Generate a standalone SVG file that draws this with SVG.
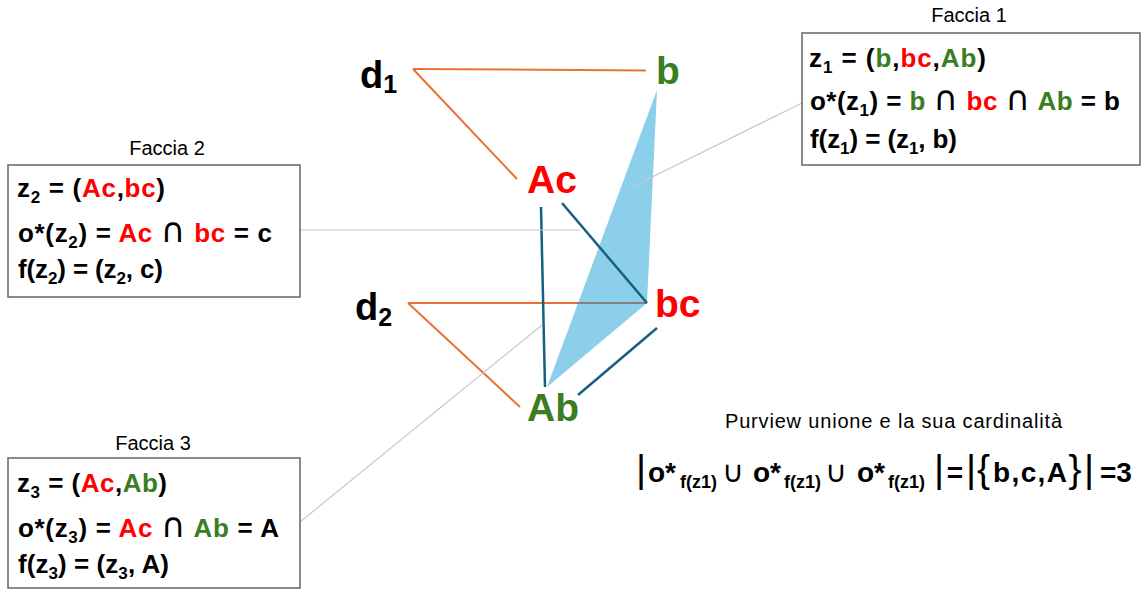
<svg xmlns="http://www.w3.org/2000/svg" width="1147" height="590" viewBox="0 0 1147 590">
<style>
text{font-family:"Liberation Sans",Arial,sans-serif;fill:#000}
.t{font-size:26px;font-weight:bold}
.ttl{font-size:20px;text-anchor:middle}
.lbl{font-size:39px;font-weight:bold}
.g{fill:#3B7D23}
.r{fill:#FF0000}
.op{font-family:"DejaVu Sans",sans-serif;font-weight:normal;font-size:34px}
.box{fill:#fff;stroke:#666;stroke-width:1.5}
.or{stroke:#E97132;stroke-width:2;fill:none}
.db{stroke:#156082;stroke-width:2.5;fill:none}
.lead{stroke:#C8C8C8;stroke-width:1.2;fill:none}
.f{font-size:28px;font-weight:bold}
.fs{font-size:18px;font-weight:bold}
.cup{font-family:"DejaVu Sans",sans-serif;font-size:30px;text-anchor:middle}
.bar{font-size:39px;text-anchor:middle}
</style>
<g id="face-z1-shape">
<polygon points="657,90 647,303 547,387" fill="#8CCFEA"/>
</g>
<g id="connectors">
<line class="or" x1="413" y1="69" x2="646" y2="70.5"/>
<line class="or" x1="413" y1="69" x2="517" y2="179"/>
<line class="or" x1="408" y1="303" x2="577" y2="303"/>
<line x1="577" y1="303" x2="647" y2="303" stroke="#808080" stroke-width="2"/>
<line class="or" x1="408" y1="303" x2="520" y2="407"/>
<line class="db" x1="541" y1="207" x2="545" y2="387"/>
<line class="db" x1="562" y1="203" x2="647" y2="303"/>
<line class="db" x1="657" y1="328" x2="578" y2="395"/>
<line class="lead" x1="632" y1="187" x2="802" y2="103"/>
<line class="lead" x1="300" y1="230" x2="580" y2="230"/>
<line class="lead" x1="300" y1="522" x2="542" y2="325"/>
</g>
<g id="node-d1"><text x="360" y="88" style="font-size:38px;font-weight:bold">d<tspan dy="5" style="font-size:25px">1</tspan></text></g>
<g id="node-d2"><text x="355" y="320" style="font-size:38px;font-weight:bold">d<tspan dy="6" style="font-size:25px">2</tspan></text></g>
<g id="node-b"><text class="lbl g" x="656" y="84">b</text></g>
<g id="node-Ac"><text class="lbl r" x="527" y="193">Ac</text></g>
<g id="node-bc"><text class="lbl r" x="655" y="317">bc</text></g>
<g id="node-Ab"><text class="lbl g" x="527" y="421">Ab</text></g>
<g id="box-faccia1">
<text class="ttl" x="969" y="22">Faccia 1</text>
<rect class="box" x="802" y="33" width="338" height="132"/>
<text class="t" x="809" y="67" textLength="177" lengthAdjust="spacing">z<tspan dy="6" font-size="17">1</tspan><tspan dy="-6"> = (</tspan><tspan class="g">b</tspan>,<tspan class="r">bc</tspan>,<tspan class="g">Ab</tspan>)</text>
<text class="t" x="810" y="110" textLength="310" lengthAdjust="spacing">o*(z<tspan dy="6" font-size="17">1</tspan><tspan dy="-6">) = </tspan><tspan class="g">b</tspan> <tspan class="op">∩</tspan> <tspan class="r">bc</tspan> <tspan class="op">∩</tspan> <tspan class="g">Ab</tspan> = b</text>
<text class="t" x="810" y="148" textLength="147" lengthAdjust="spacing">f(z<tspan dy="6" font-size="17">1</tspan><tspan dy="-6">) = (z</tspan><tspan dy="6" font-size="17">1</tspan><tspan dy="-6">, b)</tspan></text>
</g>
<g id="box-faccia2">
<text class="ttl" x="167" y="155">Faccia 2</text>
<rect class="box" x="8" y="165" width="292" height="132"/>
<text class="t" x="17" y="197" textLength="148" lengthAdjust="spacing">z<tspan dy="6" font-size="17">2</tspan><tspan dy="-6"> = (</tspan><tspan class="r">Ac</tspan>,<tspan class="r">bc</tspan>)</text>
<text class="t" x="18" y="242" textLength="254" lengthAdjust="spacing">o*(z<tspan dy="6" font-size="17">2</tspan><tspan dy="-6">) = </tspan><tspan class="r">Ac</tspan> <tspan class="op">∩</tspan> <tspan class="r">bc</tspan> = c</text>
<text class="t" x="18" y="278" textLength="145" lengthAdjust="spacing">f(z<tspan dy="6" font-size="17">2</tspan><tspan dy="-6">) = (z</tspan><tspan dy="6" font-size="17">2</tspan><tspan dy="-6">, c)</tspan></text>
</g>
<g id="box-faccia3">
<text class="ttl" x="153" y="450">Faccia 3</text>
<rect class="box" x="8" y="458" width="292" height="130"/>
<text class="t" x="17" y="492" textLength="150" lengthAdjust="spacing">z<tspan dy="6" font-size="17">3</tspan><tspan dy="-6"> = (</tspan><tspan class="r">Ac</tspan>,<tspan class="g">Ab</tspan>)</text>
<text class="t" x="18" y="537" textLength="261" lengthAdjust="spacing">o*(z<tspan dy="6" font-size="17">3</tspan><tspan dy="-6">) = </tspan><tspan class="r">Ac</tspan> <tspan class="op">∩</tspan> <tspan class="g">Ab</tspan> = A</text>
<text class="t" x="18" y="573" textLength="151" lengthAdjust="spacing">f(z<tspan dy="6" font-size="17">3</tspan><tspan dy="-6">) = (z</tspan><tspan dy="6" font-size="17">3</tspan><tspan dy="-6">, A)</tspan></text>
</g>
<g id="purview">
<text x="725" y="428" style="font-size:20px" textLength="337" lengthAdjust="spacing">Purview unione e la sua cardinalità</text>
<text class="bar" x="641" y="482">|</text>
<text class="f" x="648" y="482">o*</text>
<text class="fs" x="680" y="488">f(z1)</text>
<text class="cup" x="733" y="482">∪</text>
<text class="f" x="753" y="482">o*</text>
<text class="fs" x="784" y="488">f(z1)</text>
<text class="cup" x="836" y="482">∪</text>
<text class="f" x="857" y="482">o*</text>
<text class="fs" x="888" y="488">f(z1)</text>
<text class="bar" x="939" y="482">|</text>
<text class="f" x="955" y="482" text-anchor="middle">=</text>
<text class="bar" x="971" y="482">|</text>
<text class="bar" x="983.5" y="482">{</text>
<text class="f" x="993" y="482" textLength="74" lengthAdjust="spacing">b,c,A</text>
<text class="bar" x="1075" y="482">}</text>
<text class="bar" x="1089" y="482">|</text>
<text class="f" x="1100" y="482">=3</text>
</g>
</svg>
